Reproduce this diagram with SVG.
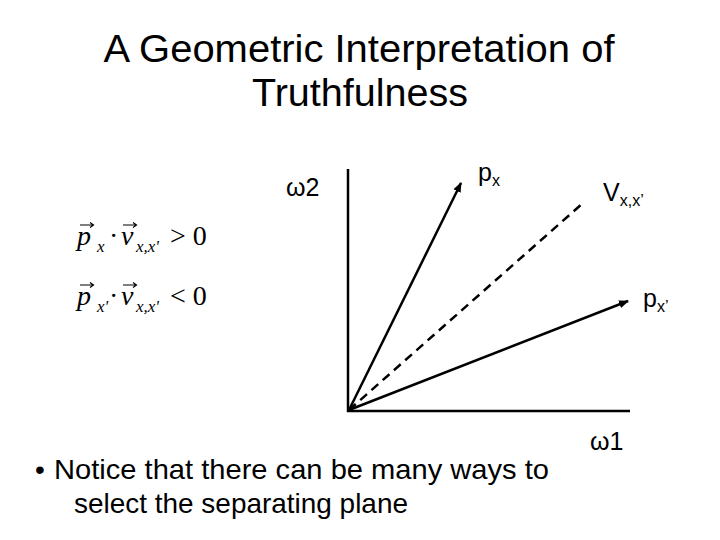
<svg xmlns="http://www.w3.org/2000/svg" width="720" height="540" viewBox="0 0 720 540">
<style>
.s{font-family:"Liberation Sans",Arial,sans-serif;fill:#000}
.m{font-family:"Liberation Serif","Times New Roman",serif;fill:#000}
.i{font-style:italic}
.ln{stroke:#000;stroke-width:2.5;fill:none}
.vec{stroke:#000;stroke-width:1.2;fill:none}
</style>
<defs>
<marker id="ah" viewBox="0 0 10 10" refX="9" refY="5" markerWidth="4" markerHeight="4" orient="auto" markerUnits="strokeWidth">
<path d="M0,1 L10,5 L0,9 Z" fill="#000"/>
</marker>
</defs>
<rect width="720" height="540" fill="#fff"/>
<g id="title">
<text class="s" x="359" y="62" font-size="38" textLength="511" lengthAdjust="spacingAndGlyphs" text-anchor="middle">A Geometric Interpretation of</text>
<text class="s" x="360" y="106" font-size="38" textLength="216" lengthAdjust="spacingAndGlyphs" text-anchor="middle">Truthfulness</text>
</g>
<g id="axes">
<line class="ln" x1="348" y1="169" x2="348" y2="412"/>
<line class="ln" x1="347" y1="411" x2="630" y2="411"/>
</g>
<g id="connectors">
<line class="ln" x1="349" y1="410" x2="461" y2="183" marker-end="url(#ah)"/>
<line class="ln" x1="349" y1="410" x2="628" y2="301" marker-end="url(#ah)"/>
<line class="ln" x1="349" y1="410" x2="583" y2="203" stroke-dasharray="9,6"/>
</g>
<g id="labels">
<text class="s" x="286" y="196" font-size="25">ω2</text>
<text class="s" x="478" y="181" font-size="25">p<tspan font-size="16" dy="5">x</tspan></text>
<text class="s" x="603" y="201" font-size="25">V<tspan font-size="16" dy="5">x,x’</tspan></text>
<text class="s" x="643" y="307" font-size="25">p<tspan font-size="16" dy="5">x’</tspan></text>
<text class="s" x="590" y="450" font-size="25">ω1</text>
</g>
<g id="formula1">
<text class="m i" x="77" y="245" font-size="28">p</text>
<text class="m i" x="97" y="252" font-size="17">x</text>
<text class="m" x="109" y="245" font-size="28">·</text>
<text class="m i" x="121" y="245" font-size="28">v</text>
<text class="m i" x="136" y="252" font-size="17">x,x'</text>
<text class="m" x="170" y="245" font-size="28">&gt; 0</text>
<path class="vec" d="M80,225 H93 M90,222.5 L93.5,225 L90,227.5"/>
<path class="vec" d="M123,225 H136 M133,222.5 L136.5,225 L133,227.5"/>
</g>
<g id="formula2">
<text class="m i" x="77" y="305" font-size="28">p</text>
<text class="m i" x="97" y="312" font-size="17">x'</text>
<text class="m" x="109" y="305" font-size="28">·</text>
<text class="m i" x="121" y="305" font-size="28">v</text>
<text class="m i" x="136" y="312" font-size="17">x,x'</text>
<text class="m" x="170" y="305" font-size="28">&lt; 0</text>
<path class="vec" d="M80,285 H93 M90,282.5 L93.5,285 L90,287.5"/>
<path class="vec" d="M123,285 H136 M133,282.5 L136.5,285 L133,287.5"/>
</g>
<g id="bullet">
<text class="s" x="35" y="479" font-size="28">•</text>
<text class="s" x="54" y="479" font-size="28" textLength="495" lengthAdjust="spacingAndGlyphs">Notice that there can be many ways to</text>
<text class="s" x="74" y="513" font-size="28" textLength="334" lengthAdjust="spacingAndGlyphs">select the separating plane</text>
</g>
</svg>
